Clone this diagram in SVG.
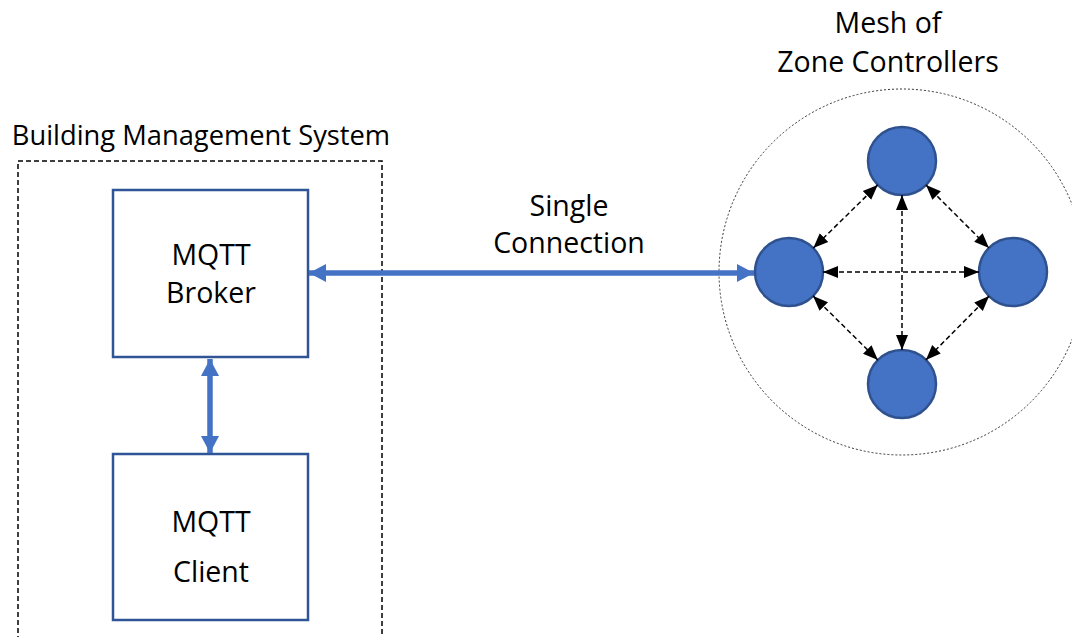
<svg xmlns="http://www.w3.org/2000/svg" width="1072" height="637" viewBox="0 0 1072 637">
<style>
  text { font-family: "Open Sans", "Liberation Sans", sans-serif; fill: #000; text-anchor: middle; }
  .lbl { font-size: 28.5px; }
  .box { fill: #fff; stroke: #2F5597; stroke-width: 2.5; }
  .zc { fill: #4472C4; stroke: #2F528F; stroke-width: 2.5; }
  .thick { stroke: #4472C4; stroke-width: 5.5; fill: none; }
  .mesh { stroke: #000; stroke-width: 1.5; stroke-dasharray: 5 3; fill: none; }
</style>
<defs>
  <marker id="bh" markerUnits="userSpaceOnUse" markerWidth="20" markerHeight="20" viewBox="0 0 20 20" refX="18" refY="10" orient="auto-start-reverse">
    <path d="M1,1 L18,10 L1,19 Z" fill="#4472C4"/>
  </marker>
  <marker id="kh" markerUnits="userSpaceOnUse" markerWidth="16" markerHeight="16" viewBox="0 0 16 16" refX="15" refY="8" orient="auto-start-reverse">
    <path d="M0,2 L15,8 L0,14 Z" fill="#000"/>
  </marker>
</defs>

<g id="bms">
  <rect x="18" y="161" width="364" height="520" fill="none" stroke="#000" stroke-width="1.5" stroke-dasharray="5 3"/>
  <text x="201" y="145" font-size="27.3">Building Management System</text>
</g>

<g id="mesh-area">
  <circle cx="902" cy="272" r="183" fill="none" stroke="#333" stroke-width="1" stroke-dasharray="2 2"/>
  <text class="lbl" x="888" y="33">Mesh of</text>
  <text class="lbl" x="888" y="72">Zone Controllers</text>
</g>

<g id="broker">
  <rect class="box" x="113" y="190" width="195" height="167"/>
  <text class="lbl" x="211" y="265">MQTT</text>
  <text class="lbl" x="211" y="303">Broker</text>
</g>

<g id="client">
  <rect class="box" x="113" y="454" width="195" height="166"/>
  <text class="lbl" x="211" y="532">MQTT</text>
  <text class="lbl" x="211" y="582">Client</text>
</g>

<g id="zc-top"><circle class="zc" cx="902" cy="161" r="34"/></g>
<g id="zc-left"><circle class="zc" cx="789" cy="272" r="34"/></g>
<g id="zc-right"><circle class="zc" cx="1013" cy="272" r="34"/></g>
<g id="zc-bottom"><circle class="zc" cx="902" cy="384" r="34"/></g>

<g id="connectors">
  <line class="thick" x1="309" y1="273" x2="754" y2="273" marker-start="url(#bh)" marker-end="url(#bh)"/>
  <line class="thick" x1="210" y1="359" x2="210" y2="453" marker-start="url(#bh)" marker-end="url(#bh)"/>
  <line class="mesh" x1="877.7" y1="184.9" x2="813.3" y2="248.1" marker-start="url(#kh)" marker-end="url(#kh)"/>
  <line class="mesh" x1="926" y1="185" x2="989" y2="248" marker-start="url(#kh)" marker-end="url(#kh)"/>
  <line class="mesh" x1="813.1" y1="295.9" x2="877.9" y2="360.1" marker-start="url(#kh)" marker-end="url(#kh)"/>
  <line class="mesh" x1="989.1" y1="296.1" x2="925.9" y2="359.9" marker-start="url(#kh)" marker-end="url(#kh)"/>
  <line class="mesh" x1="823" y1="272" x2="979" y2="272" marker-start="url(#kh)" marker-end="url(#kh)"/>
  <line class="mesh" x1="902" y1="195" x2="902" y2="350" marker-start="url(#kh)" marker-end="url(#kh)"/>
  <text class="lbl" x="569" y="216">Single</text>
  <text class="lbl" x="569" y="253">Connection</text>
</g>
</svg>
